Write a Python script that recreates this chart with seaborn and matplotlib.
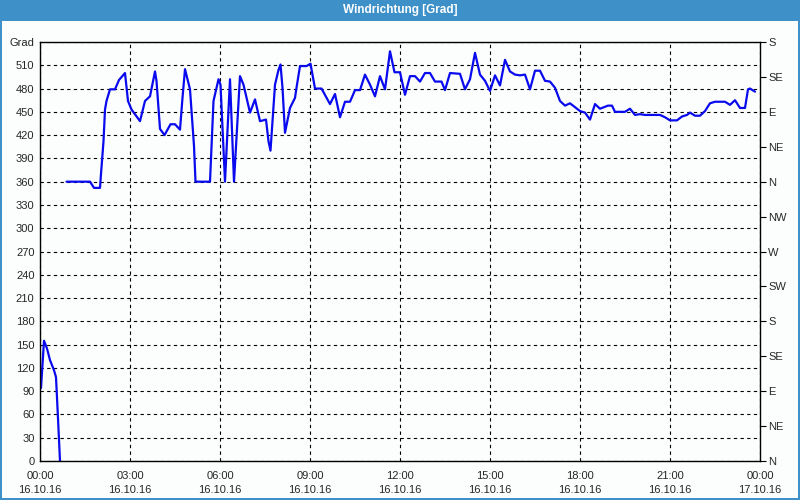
import numpy as np
import pandas as pd
import seaborn as sns
import matplotlib
matplotlib.use("Agg")
import matplotlib.pyplot as plt
from matplotlib.patches import Rectangle

# ---- data (minutes since 16.10.16 00:00, wind direction in degrees) ----
seg1_min = [2, 8, 14, 20, 28, 32, 36, 40]
seg1_val = [94, 155, 145, 130, 117, 108, 55, 0]

seg2_min = [53, 100, 108, 120, 122, 127, 130, 133, 140, 150, 158, 170, 176, 183,
            200, 210, 220, 230, 233, 240, 249, 261, 270, 280, 285, 290, 300, 303,
            308, 311, 340, 347, 357, 361, 370, 380, 388, 400, 407, 420, 430, 440,
            452, 457, 461, 465, 470, 477, 481, 485, 490, 500, 510, 513, 520, 533,
            541, 550, 563, 580, 590, 600, 610, 620, 630, 640, 650, 660, 670, 680,
            690, 700, 709, 720, 730, 740, 750, 760, 770, 780, 790, 803, 810, 820,
            840, 850, 860, 870, 880, 890, 900, 910, 920, 930, 940, 950, 960, 970,
            980, 990, 1000, 1010, 1020, 1030, 1040, 1050, 1060, 1070, 1080, 1090,
            1100, 1110, 1120, 1136, 1144, 1150, 1170, 1180, 1190, 1200, 1210, 1240,
            1250, 1260, 1274, 1284, 1294, 1300, 1310, 1320, 1330, 1340, 1350, 1370,
            1380, 1390, 1400, 1410, 1416, 1420, 1430]
seg2_val = [360, 360, 352, 352, 370, 412, 453, 464, 479, 479, 491, 500, 464, 453,
            438, 464, 470, 502, 490, 428, 420, 434, 434, 427, 468, 505, 479, 451,
            406, 360, 360, 464, 492, 485, 360, 492, 360, 496, 485, 449, 466, 438,
            440, 412, 400, 438, 485, 504, 511, 481, 423, 455, 468, 481, 509, 509,
            512, 480, 480, 460, 473, 443, 463, 463, 478, 478, 498, 485, 470, 496,
            479, 528, 501, 501, 472, 496, 496, 489, 500, 500, 489, 489, 478, 500,
            499, 479, 492, 526, 498, 490, 477, 497, 484, 517, 502, 498, 497, 498,
            479, 503, 503, 490, 489, 481, 464, 458, 461, 456, 451, 449, 440, 460,
            454, 458, 458, 450, 450, 454, 446, 447, 446, 446, 443, 439, 439, 444,
            446, 449, 445, 445, 451, 461, 463, 463, 459, 465, 455, 455, 479, 480,
            476]

y_ticks = list(range(0, 541, 30))
y_labels = [str(v) for v in range(0, 511, 30)] + ["Grad"]
dir_ticks = list(range(0, 541, 45))
dir_labels = ["N", "NE", "E", "SE", "S", "SW", "W", "NW", "N", "NE", "E", "SE", "S"]
x_ticks = list(range(0, 25, 3))
x_labels = ["00:00\n16.10.16", "03:00\n16.10.16", "06:00\n16.10.16", "09:00\n16.10.16",
            "12:00\n16.10.16", "15:00\n16.10.16", "18:00\n16.10.16", "21:00\n16.10.16",
            "00:00\n17.10.16"]
title = "Windrichtung [Grad]"

df = pd.DataFrame({
    "hour": np.array(seg1_min + seg2_min) / 60.0,
    "deg": seg1_val + seg2_val,
    "seg": [1] * len(seg1_min) + [2] * len(seg2_min),
})

sns.set_style("white")
plt.rcParams["font.family"] = ["Liberation Sans", "DejaVu Sans"]

W, H = 800, 500
fig = plt.figure(figsize=(W / 100, H / 100), dpi=100, facecolor="#FBFEFC")

# title bar and frame
fig.patches.append(Rectangle((0, (H - 21) / H), 1, 21 / H, transform=fig.transFigure,
                             facecolor="#3E90C8", edgecolor="none", zorder=0))
for rect in [(0, 0, 2 / W, 1), (1 - 2 / W, 0, 2 / W, 1), (0, 0, 1, 2 / H)]:
    fig.patches.append(Rectangle(rect[:2], rect[2], rect[3], transform=fig.transFigure,
                                 facecolor="#3E90C8", edgecolor="none", zorder=0))
fig.text(0.5, (H - 10.5) / H, title, color="white", ha="center", va="center",
         fontsize=8.5, fontweight="bold")

ax = fig.add_axes([40 / W, 39 / H, 720 / W, 419 / H])
ax.set_facecolor("#FBFEFC")

sns.lineplot(data=df, x="hour", y="deg", units="seg", estimator=None,
             color="#0A0AEE", linewidth=1.6, ax=ax, legend=False)

ax.set_xlim(0, 24)
ax.set_ylim(0, 540)
ax.set_xlabel("")
ax.set_ylabel("")

ax.set_yticks(y_ticks)
ax.set_yticklabels(y_labels, fontsize=8)
ax.set_xticks(x_ticks)
ax.set_xticklabels(x_labels, fontsize=8, linespacing=1.5)
ax.set_xticks(range(0, 25), minor=True)

ax.tick_params(axis="y", which="both", length=0, pad=4)
ax.tick_params(axis="x", which="both", length=4, width=0.8, direction="out",
               color="black", pad=3)

ax.grid(True, which="major", color="black", linestyle=(0, (3, 3)), linewidth=0.8)
for s in ax.spines.values():
    s.set_color("black")
    s.set_linewidth(1.0)

ax2 = ax.twinx()
ax2.set_ylim(0, 540)
ax2.set_yticks(dir_ticks)
ax2.set_yticklabels(dir_labels, fontsize=8)
ax2.tick_params(axis="y", length=4, width=0.8, direction="out", color="black", pad=2)
for s in ax2.spines.values():
    s.set_visible(False)

fig.savefig("out.png", dpi=100, facecolor=fig.get_facecolor())
